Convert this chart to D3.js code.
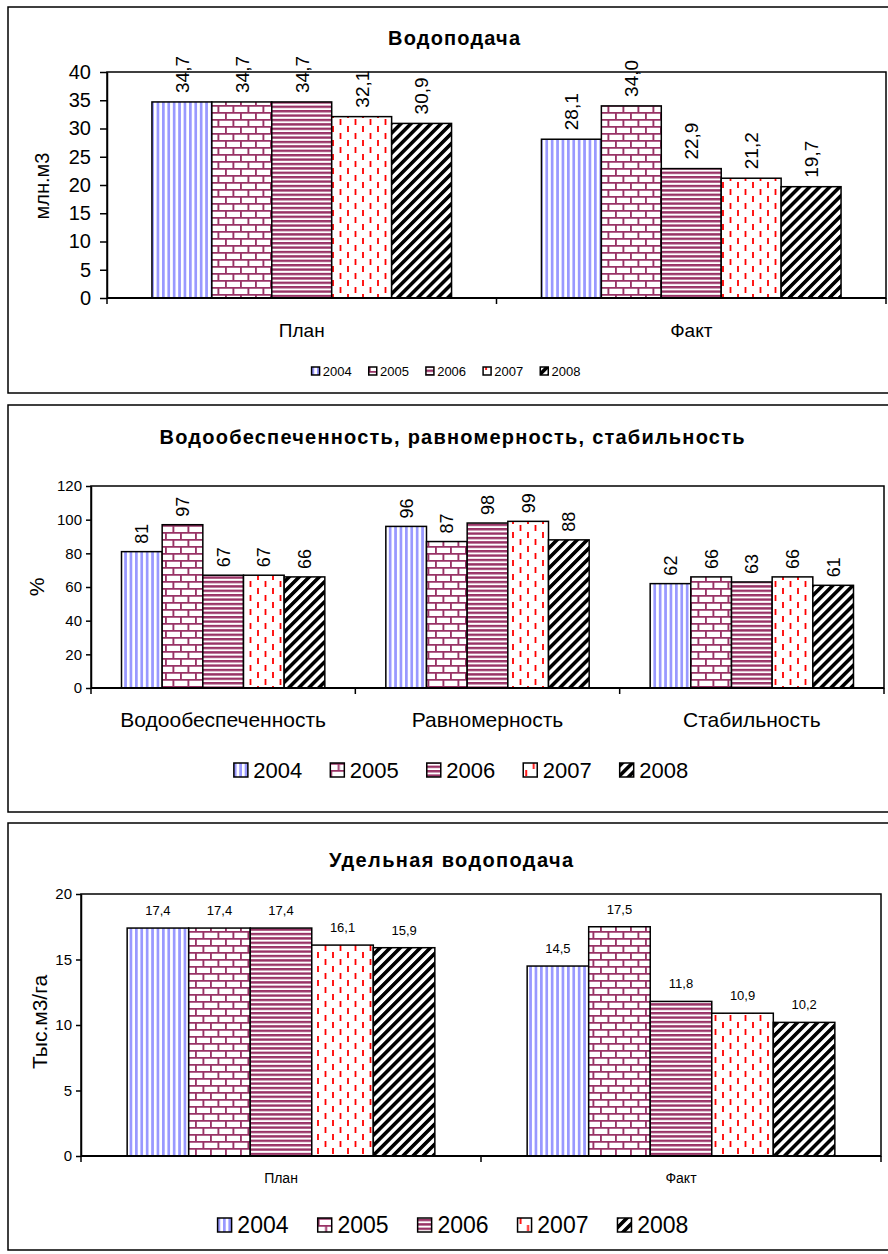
<!DOCTYPE html>
<html>
<head>
<meta charset="utf-8">
<script src="https://cdn.jsdelivr.net/npm/d3@7"></script>
<style>
  body { margin: 0; background: #fff; }
  svg { display: block; font-family: "Liberation Sans", Arial, sans-serif; }
</style>
</head>
<body>
<script>
// data
const years = ['2004', '2005', '2006', '2007', '2008']

const supplyCats = ['План', 'Факт']
const supplyPlan = [34.7, 34.7, 34.7, 32.1, 30.9]
const supplyFact = [28.1, 34.0, 22.9, 21.2, 19.7]
const supplyTicks = [0, 5, 10, 15, 20, 25, 30, 35, 40]

const percentCats = ['Водообеспеченность', 'Равномерность', 'Стабильность']
const securityVals = [81, 97, 67, 67, 66]
const uniformityVals = [96, 87, 98, 99, 88]
const stabilityVals = [62, 66, 63, 66, 61]
const percentTicks = [0, 20, 40, 60, 80, 100, 120]

const specificCats = ['План', 'Факт']
const specificPlan = [17.4, 17.4, 17.4, 16.1, 15.9]
const specificFact = [14.5, 17.5, 11.8, 10.9, 10.2]
const specificTicks = [0, 5, 10, 15, 20]

const comma = d => d.toFixed(1).replace('.', ',')
const whole = d => String(d)

const svg = d3.select('body').append('svg')
  .attr('width', 888)
  .attr('height', 1254)

// fill patterns, one per year
const defs = svg.append('defs')
function pattern(id, w, h, transform) {
  const p = defs.append('pattern')
    .attr('id', id)
    .attr('patternUnits', 'userSpaceOnUse')
    .attr('width', w).attr('height', h)
  if (transform) p.attr('patternTransform', transform)
  p.append('rect').attr('width', w).attr('height', h).attr('fill', '#fff')
  return p
}
// 2004 vertical blue stripes
pattern('p0', 5.4, 10).append('rect')
  .attr('x', 0).attr('width', 2.7).attr('height', 10).attr('fill', '#9999ff')
// 2005 bricks
const brick = pattern('p1', 15, 14)
brick.append('path')
  .attr('d', 'M0,0.9H15M0,7.9H15M0.9,0V7.9M8.4,7.9V14')
  .attr('stroke', '#993366').attr('stroke-width', 1.9).attr('fill', 'none')
// 2006 horizontal stripes
pattern('p2', 10, 4.4).append('rect')
  .attr('y', 0).attr('width', 10).attr('height', 2.4).attr('fill', '#993366')
// 2007 red dashes
pattern('p3', 15, 14).append('path')
  .attr('d', 'M3,0V6M10.5,7V13')
  .attr('stroke', '#ff0000').attr('stroke-width', 1.8).attr('fill', 'none')
// 2008 black upward diagonals
pattern('p4', 7.1, 10, 'rotate(45)').append('rect')
  .attr('x', 0).attr('width', 3.6).attr('height', 10).attr('fill', '#000')

function drawChart(cfg) {
  const g = svg.append('g')

  // outer frame
  g.append('rect')
    .attr('x', cfg.box[0]).attr('y', cfg.box[1])
    .attr('width', cfg.box[2]).attr('height', cfg.box[3])
    .attr('fill', '#fff').attr('stroke', '#000').attr('stroke-width', 1.5)

  // title
  g.append('text')
    .attr('x', cfg.titleX).attr('y', cfg.titleY)
    .attr('text-anchor', 'middle')
    .attr('font-size', cfg.titleSize).attr('font-weight', 'bold')
    .attr('textLength', cfg.titleWidth).attr('lengthAdjust', 'spacing')
    .text(cfg.title)

  const [l, t, r, b] = cfg.plot
  const x0 = d3.scaleBand().domain(cfg.cats).range([l, r])
  const x1 = d3.scaleBand().domain(years).range([0, x0.bandwidth()]).paddingOuter(0.75)
  const y = d3.scaleLinear().domain([0, cfg.yMax]).range([b, t])

  g.append('rect')
    .attr('x', l).attr('y', t).attr('width', r - l).attr('height', b - t)
    .attr('fill', '#fff').attr('stroke', '#000').attr('stroke-width', 1.5)

  // bars
  const groups = g.selectAll('.year')
    .data(cfg.series)
    .enter().append('g')
    .attr('class', 'year')

  groups.selectAll('rect')
    .data((vals, i) => vals.map((v, j) => ({v: v, cat: cfg.cats[j], year: years[i], i: i})))
    .enter().append('rect')
    .attr('x', d => x0(d.cat) + x1(d.year))
    .attr('y', d => y(d.v))
    .attr('width', x1.bandwidth())
    .attr('height', d => b - y(d.v))
    .attr('fill', d => `url(#p${d.i})`)
    .attr('stroke', '#000').attr('stroke-width', 1.5)

  // value labels
  groups.selectAll('text')
    .data((vals, i) => vals.map((v, j) => ({v: v, cat: cfg.cats[j], year: years[i]})))
    .enter().append('text')
    .attr('font-size', cfg.valSize)
    .attr('transform', d => {
      const cx = x0(d.cat) + x1(d.year) + x1.bandwidth() / 2
      return cfg.valRotate
        ? `translate(${cx},${y(d.v) - cfg.valGap}) rotate(-90)`
        : `translate(${cx},${y(d.v) - cfg.valGap})`
    })
    .attr('dy', cfg.valRotate ? '0.36em' : 0)
    .attr('text-anchor', cfg.valRotate ? 'start' : 'middle')
    .text(d => cfg.fmt(d.v))

  // y axis
  const yAxis = g.append('g')
    .attr('transform', `translate(${l},0)`)
    .call(d3.axisLeft(y).tickValues(cfg.ticks).tickSize(cfg.tickLen).tickSizeOuter(0).tickPadding(cfg.tickPad))
  yAxis.selectAll('text').attr('font-size', cfg.tickSize).attr('fill', '#000')
    .attr('font-family', '"Liberation Sans", Arial, sans-serif')
  yAxis.selectAll('line').attr('stroke-width', 1.5)
  yAxis.select('.domain').attr('stroke-width', 1.5)

  // x axis ticks between categories
  const edges = cfg.cats.map(c => x0(c)).concat([r])
  g.selectAll('.xtick')
    .data(edges)
    .enter().append('line')
    .attr('x1', d => d).attr('x2', d => d)
    .attr('y1', b).attr('y2', b + 6)
    .attr('stroke', '#000').attr('stroke-width', 1.5)
  g.append('line')
    .attr('x1', l).attr('x2', r).attr('y1', b).attr('y2', b)
    .attr('stroke', '#000').attr('stroke-width', 2)

  g.selectAll('.cat')
    .data(cfg.cats)
    .enter().append('text')
    .attr('x', d => x0(d) + x0.bandwidth() / 2)
    .attr('y', cfg.catY)
    .attr('text-anchor', 'middle')
    .attr('font-size', cfg.catSize)
    .text(d => d)

  // y title
  g.append('text')
    .attr('transform', `translate(${cfg.yTitleX},${cfg.yTitleY}) rotate(-90)`)
    .attr('text-anchor', 'middle')
    .attr('dy', '0.35em')
    .attr('font-size', cfg.yTitleSize)
    .text(cfg.yTitle)

  // legend
  const leg = g.append('g')
  const items = leg.selectAll('g')
    .data(years)
    .enter().append('g')
  const sw = cfg.legendSwatch
  items.append('rect')
    .attr('width', sw).attr('height', sw)
    .attr('y', cfg.legendY - sw / 2)
    .attr('fill', (d, i) => `url(#p${i})`)
    .attr('stroke', '#000').attr('stroke-width', 1.5)
  items.append('text')
    .attr('x', sw + cfg.legendSize * 0.25)
    .attr('y', cfg.legendY)
    .attr('dy', '0.35em')
    .attr('font-size', cfg.legendSize)
    .text(d => d)
  let pos = 0
  const widths = []
  items.each(function () {
    widths.push(this.getBBox().width)
  })
  const total = d3.sum(widths) + cfg.legendGap * (years.length - 1)
  let start = cfg.legendX - total / 2
  items.attr('transform', (d, i) => {
    const tx = start + pos
    pos += widths[i] + cfg.legendGap
    return `translate(${tx},0)`
  })
}

drawChart({
  box: [8, 7, 890, 386],
  title: 'Водоподача', titleX: 454, titleY: 45, titleSize: 20, titleWidth: 132,
  plot: [107, 72, 886, 298],
  cats: supplyCats,
  series: years.map((yr, i) => [supplyPlan[i], supplyFact[i]]),
  yMax: 40, ticks: supplyTicks, tickSize: 20, tickLen: 7, tickPad: 9,
  fmt: comma, valSize: 19, valRotate: true, valGap: 9,
  catSize: 19, catY: 337,
  yTitle: 'млн.м3', yTitleX: 42, yTitleY: 186, yTitleSize: 20,
  legendY: 371, legendX: 446, legendSize: 13, legendSwatch: 8, legendGap: 17
})

drawChart({
  box: [8, 405, 890, 407],
  title: 'Водообеспеченность, равномерность, стабильность', titleX: 452, titleY: 444, titleSize: 20, titleWidth: 585,
  plot: [91, 486, 884, 688],
  cats: percentCats,
  series: years.map((yr, i) => [securityVals[i], uniformityVals[i], stabilityVals[i]]),
  yMax: 120, ticks: percentTicks, tickSize: 15, tickLen: 5, tickPad: 4,
  fmt: whole, valSize: 18, valRotate: true, valGap: 8,
  catSize: 21, catY: 727,
  yTitle: '%', yTitleX: 37, yTitleY: 587, yTitleSize: 21,
  legendY: 770, legendX: 461, legendSize: 22, legendSwatch: 14, legendGap: 28
})

drawChart({
  box: [8, 823, 890, 427],
  title: 'Удельная водоподача', titleX: 451, titleY: 867, titleSize: 20, titleWidth: 244,
  plot: [81, 894, 881, 1156],
  cats: specificCats,
  series: years.map((yr, i) => [specificPlan[i], specificFact[i]]),
  yMax: 20, ticks: specificTicks, tickSize: 15, tickLen: 5, tickPad: 4,
  fmt: comma, valSize: 13, valRotate: false, valGap: 13,
  catSize: 14, catY: 1183,
  yTitle: 'Тыс.м3/га', yTitleX: 40, yTitleY: 1022, yTitleSize: 21,
  legendY: 1225, legendX: 453, legendSize: 23, legendSwatch: 14, legendGap: 29
})
</script>
</body>
</html>
